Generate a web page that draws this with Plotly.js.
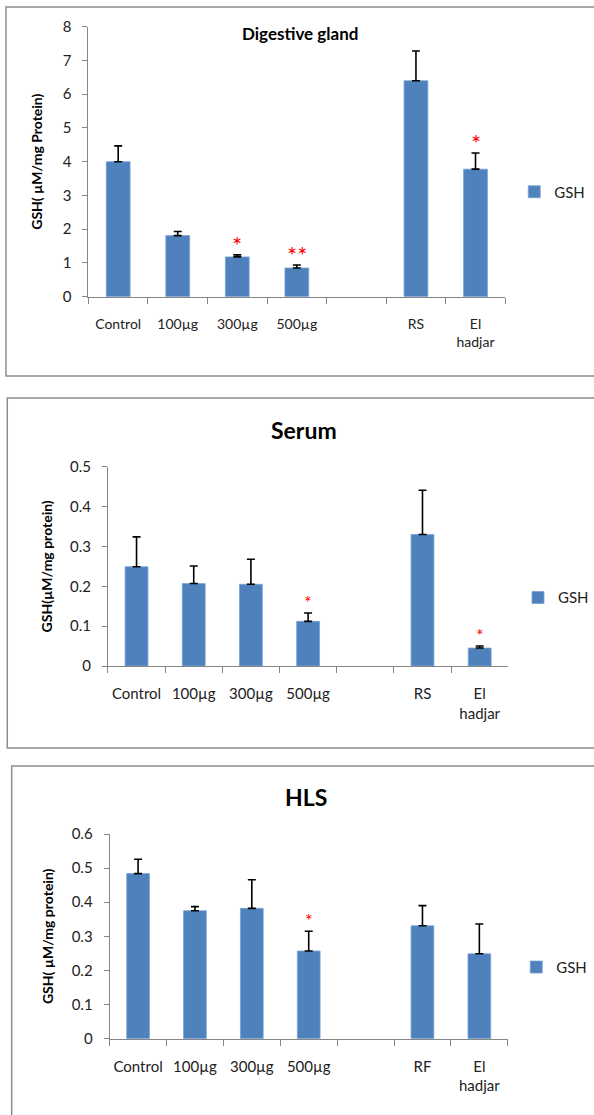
<!DOCTYPE html>
<html><head><meta charset="utf-8">
<script src="https://cdn.plot.ly/plotly-3.0.1.min.js"></script>
<style>html,body{margin:0;padding:0;background:#fff}#chart{width:594px;height:1115px}</style>
</head><body><div id="chart"></div>
<script>
// ---- data ----
const categoriesA = ["Control","100µg","300µg","500µg"," ","RS","El<br>hadjar"];
const categoriesC = ["Control","100µg","300µg","500µg"," ","RF","El<br>hadjar"];
const digestiveGSH = [4.00,1.81,1.18,0.85,null,6.40,3.78];
const digestiveErr = [0.47,0.12,0.06,0.09,null,0.88,0.48];
const digestiveStars = ["","","*","**","","","*"];
const serumGSH = [0.249,0.207,0.205,0.112,null,0.330,0.045];
const serumErr = [0.075,0.044,0.063,0.021,null,0.111,0.005];
const serumStars = ["","","","*","","","*"];
const hlsGSH = [0.484,0.375,0.382,0.257,null,0.331,0.249];
const hlsErr = [0.042,0.012,0.084,0.058,null,0.059,0.087];
const hlsStars = ["","","","*","","",""];
const yTicksDigestive = [0,1,2,3,4,5,6,7,8];
const yTicksSerum = [0,0.1,0.2,0.3,0.4,0.5];
const yTicksHLS = [0,0.1,0.2,0.3,0.4,0.5,0.6];
const titles = ["Digestive gland","Serum","HLS"];
const yTitles = ["GSH( µM/mg Protein)","GSH(µM/mg protein)","GSH( µM/mg protein)"];
const seriesName = "GSH";

// ---- layout helpers ----
const W = 594, H = 1115;
const PX = p => p / W, PY = p => 1 - p / H;
const FONT = "Lato, 'Open Sans', sans-serif";
const BLUE = "#4F81BD", AXIS = "#868686";

const panels = [
  {cats: categoriesA, vals: digestiveGSH, errs: digestiveErr, stars: digestiveStars, ticks: yTicksDigestive,
   l: 88.7, r: 507, t: 26.7, b: 296.7, titleX: 301.5, titleY: 33, titleSize: 17, xTickSize: 14, yTickSize: 15,
   ytitleSize: 14, legX: 542, legY: 192, box: [6, 7, 376], starSize: 24, starShift: 10, yStandoff: 16, xStandoff: 14},
  {cats: categoriesA, vals: serumGSH, errs: serumErr, stars: serumStars, ticks: yTicksSerum,
   l: 108.3, r: 510, t: 466.7, b: 666, titleX: 305, titleY: 430, titleSize: 23, xTickSize: 15, yTickSize: 15,
   ytitleSize: 14, legX: 546, legY: 597.7, box: [7.3, 398, 748], starSize: 18, starShift: 11, yStandoff: 14, xStandoff: 14},
  {cats: categoriesC, vals: hlsGSH, errs: hlsErr, stars: hlsStars, ticks: yTicksHLS,
   l: 110, r: 509.5, t: 834, b: 1038.7, titleX: 306.7, titleY: 796.7, titleSize: 23, xTickSize: 15, yTickSize: 15,
   ytitleSize: 14, legX: 544, legY: 967.3, box: [11.7, 766, 1130], starSize: 18, starShift: 11, yStandoff: 14, xStandoff: 14}
];

const traces = [], annotations = [], shapes = [];
const layout = {
  width: W, height: H, margin: {l: 0, r: 0, t: 0, b: 0},
  paper_bgcolor: "#fff", plot_bgcolor: "#fff", showlegend: true,
  font: {family: FONT, color: "#222"}
};

panels.forEach((p, i) => {
  const n = i === 0 ? "" : String(i + 1);
  const xa = "x" + n, ya = "y" + n;
  const leg = "legend" + n;
  traces.push({
    type: "bar", x: p.cats, y: p.vals, name: seriesName, xaxis: xa, yaxis: ya, legend: leg,
    width: 0.4, marker: {color: BLUE, line: {color: "#7aa3d6", width: 0.8}},
    error_y: {type: "data", array: p.errs, arrayminus: p.errs.map(() => 0), symmetric: false,
              color: "#000", thickness: 1.6, width: 4},
    hoverinfo: "skip"
  });
  layout["xaxis" + n] = {
    domain: [PX(p.l), PX(p.r)], anchor: ya, type: "category", categoryorder: "array", categoryarray: p.cats,
    showline: true, linecolor: AXIS, linewidth: 1, ticks: "outside", tickson: "boundaries",
    ticklen: 6, tickcolor: AXIS, showgrid: false, zeroline: false, tickangle: 0,
    tickfont: {family: FONT, size: p.xTickSize, color: "#222"}, ticklabelstandoff: p.xStandoff, fixedrange: true
  };
  layout["yaxis" + n] = {
    domain: [PY(p.b), PY(p.t)], anchor: xa, range: [0, p.ticks[p.ticks.length - 1]],
    tickvals: p.ticks, ticktext: p.ticks.map(String),
    showline: true, linecolor: AXIS, linewidth: 1, ticks: "outside", ticklen: 5, tickcolor: AXIS,
    showgrid: false, zeroline: false, ticklabelstandoff: 8,
    tickfont: {family: FONT, size: p.yTickSize, color: "#222"},
    title: {text: "<b>" + yTitles[i] + "</b>", font: {family: FONT, size: p.ytitleSize, color: "#000"}, standoff: p.yStandoff},
    fixedrange: true
  };
  layout[leg] = {
    x: PX(p.legX - 26), y: PY(p.legY), xanchor: "left", yanchor: "middle",
    font: {family: FONT, size: 15, color: "#222"}, bgcolor: "rgba(0,0,0,0)", borderwidth: 0
  };
  annotations.push({
    xref: "paper", yref: "paper", x: PX(p.titleX), y: PY(p.titleY), xanchor: "center", yanchor: "middle",
    text: "<b>" + titles[i] + "</b>", showarrow: false, font: {family: FONT, size: p.titleSize, color: "#000"}
  });
  p.stars.forEach((s, k) => {
    if (!s) return;
    annotations.push({
      xref: xa, yref: ya, x: p.cats[k], y: p.vals[k] + p.errs[k], xanchor: "center", yanchor: "middle",
      yshift: p.starShift, text: s, showarrow: false, font: {family: FONT, size: p.starSize, color: "#ff0000"}
    });
  });
  shapes.push({
    type: "rect", xref: "paper", yref: "paper", x0: PX(p.box[0]), x1: PX(W + 20), y0: PY(p.box[2]), y1: PY(p.box[1]),
    line: {color: "#8c8c8c", width: 1.5}, fillcolor: "rgba(0,0,0,0)", layer: "below"
  });
});

layout.annotations = annotations;
layout.shapes = shapes;

Plotly.newPlot("chart", traces, layout, {staticPlot: true, displayModeBar: false});
</script>
</body></html>
